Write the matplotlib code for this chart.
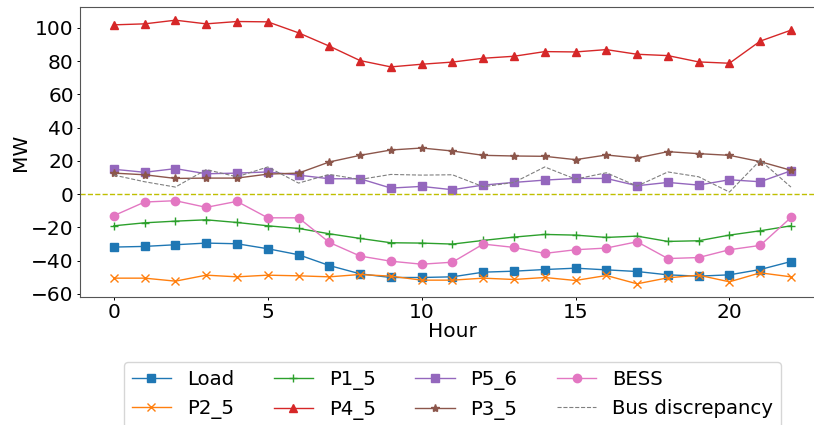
import matplotlib
matplotlib.use("Agg")
import matplotlib.pyplot as plt
from matplotlib.ticker import MultipleLocator
import numpy as np

hours = np.arange(23)

load = [-31.9, -31.5, -30.5, -29.5, -29.9, -32.9, -36.5, -43.0, -48.0, -50.2, -50.2, -49.8,
        -47.0, -46.4, -45.4, -44.6, -45.6, -46.6, -48.6, -49.4, -48.6, -45.4, -40.6]
p2_5 = [-50.6, -50.6, -52.4, -48.8, -49.8, -48.8, -49.2, -49.8, -48.4, -49.4, -51.8, -51.8,
        -50.6, -51.4, -50.2, -52.0, -49.0, -54.0, -50.4, -48.8, -52.8, -47.4, -49.8]
p1_5 = [-19.1, -17.3, -16.3, -15.5, -17.1, -19.1, -20.7, -23.9, -26.7, -29.3, -29.5, -30.1,
        -27.9, -25.9, -24.3, -24.7, -26.1, -25.3, -28.5, -28.1, -24.7, -22.1, -19.1]
p4_5 = [101.8, 102.4, 104.6, 102.4, 103.8, 103.6, 97.0, 89.0, 80.3, 76.5, 78.1, 79.4,
        81.7, 82.9, 85.7, 85.5, 86.9, 84.1, 83.3, 79.5, 78.7, 92.0, 98.6]
p5_6 = [14.9, 13.1, 15.3, 12.2, 12.6, 13.3, 11.4, 9.2, 9.2, 3.6, 4.6, 2.6,
        5.4, 7.0, 8.4, 9.4, 9.4, 5.0, 7.0, 5.4, 8.6, 7.4, 14.0]
p3_5 = [12.6, 11.6, 9.4, 9.6, 9.6, 12.0, 12.6, 19.3, 23.3, 26.5, 27.7, 25.9,
        23.3, 22.9, 22.7, 20.7, 23.5, 21.7, 25.5, 24.3, 23.3, 19.5, 14.3]
bess = [-13.0, -4.8, -4.0, -8.0, -4.4, -14.3, -14.3, -29.1, -37.3, -40.4, -42.2, -41.0,
        -30.1, -32.1, -35.7, -33.5, -32.5, -28.7, -38.8, -38.2, -33.5, -30.9, -14.1]
bus_disc = [11.4, 7.4, 4.2, 14.7, 10.4, 16.3, 6.6, 11.8, 8.8, 11.8, 11.4, 11.6,
            4.4, 7.0, 16.3, 9.0, 12.8, 4.8, 13.3, 10.4, 1.2, 20.3, 4.2]

plt.rcParams['font.size'] = 14.5

fig = plt.figure(figsize=(8.14, 4.25), dpi=100)
ax = fig.add_axes([0.0983, 0.3012, 0.915, 0.6823])

ax.plot(hours, load, marker='s', lw=1, ms=6, label='Load')
ax.plot(hours, p2_5, marker='x', lw=1, ms=6, label='P2_5')
ax.plot(hours, p1_5, marker='+', lw=1, ms=6, label='P1_5')
ax.plot(hours, p4_5, marker='^', lw=1, ms=6, label='P4_5')
ax.plot(hours, p5_6, marker='s', lw=1, ms=6, label='P5_6')
ax.plot(hours, p3_5, marker='*', lw=1, ms=6, label='P3_5')
ax.plot(hours, bess, marker='o', lw=1, ms=6, label='BESS')
ax.plot(hours, bus_disc, '--', color='gray', lw=0.8, label='Bus discrepancy')
ax.axhline(0, color='y', ls='--', lw=1)

ax.yaxis.set_major_locator(MultipleLocator(20))
ax.tick_params(length=2.5, width=0.7, pad=2)
for s in ax.spines.values():
    s.set_color('#555555')

ax.set_xlabel('Hour', labelpad=0)
ax.set_ylabel('MW', labelpad=1)
ax.legend(loc='upper center', bbox_to_anchor=(0.5, -0.19), ncol=4, fontsize=14.2,
          labelspacing=0.52)

fig.savefig('out.png', dpi=100)
